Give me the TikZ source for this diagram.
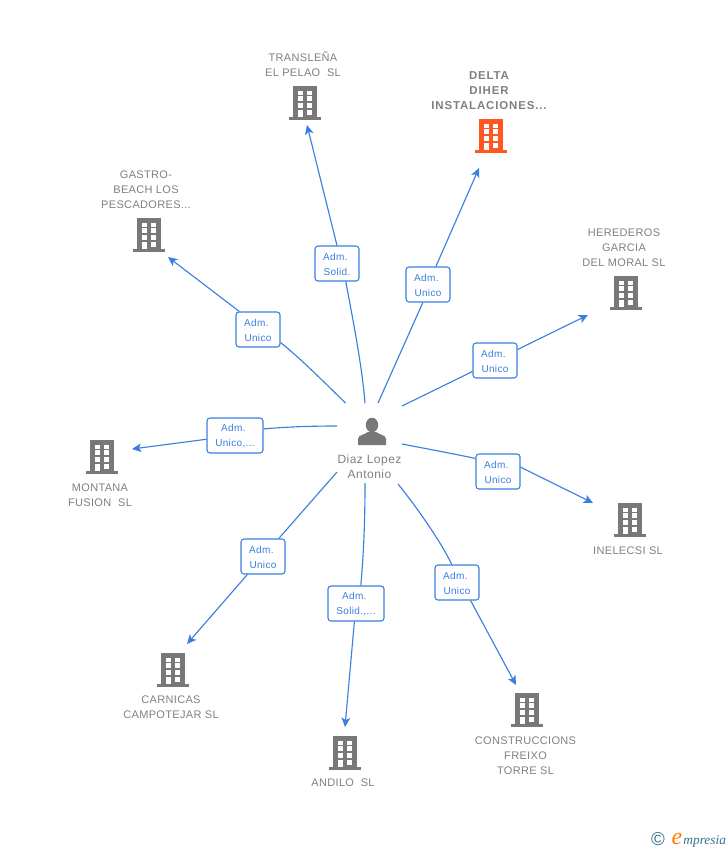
\documentclass[tikz,border=0pt]{standalone}
\usepackage{fontspec}
\setmainfont{Liberation Sans}
\newfontfamily\logofont{Liberation Serif}
\newfontfamily\firmfont[LetterSpace=3]{Liberation Sans}
\newfontfamily\hotfont[LetterSpace=7.5]{Liberation Sans}
\newfontfamily\personfont[LetterSpace=4]{Liberation Sans}
\newfontfamily\rolefont[LetterSpace=3.5]{Liberation Sans}
\usetikzlibrary{arrows.meta}
\definecolor{linkblue}{RGB}{58,127,224}
\definecolor{iconGrey}{RGB}{120,120,120}
\definecolor{textGrey}{RGB}{128,128,128}
\definecolor{hotOrange}{RGB}{255,87,34}
\definecolor{logoTeal}{RGB}{52,112,140}
\newcommand{\admword}{\rule{0pt}{6.9pt}Adm.\kern2.5pt}
\tikzset{
	every picture/.style={line width=0.75pt},
	link/.style={draw=linkblue,line width=0.85pt},
	linkarrow/.style={link,-{Stealth[length=7pt,width=6.5pt,inset=1.8pt]}},
	admbox/.style={draw=linkblue,fill=white,rounded corners=2.2pt,line width=0.8pt,minimum width=33pt,minimum height=26.25pt,inner sep=0pt,align=center,text=linkblue,font=\rolefont\fontsize{7.5}{11.25}\selectfont},
	admwide/.style={admbox,minimum width=42pt},
	firmlabel/.style={align=center,text=textGrey,inner sep=0pt,font=\firmfont\fontsize{8.25}{11.25}\selectfont},
	hotlabel/.style={align=center,text=textGrey,inner sep=0pt,font=\hotfont\fontsize{8.6}{11.25}\selectfont\bfseries},
	personlabel/.style={align=center,text=textGrey,inner sep=0pt,font=\personfont\fontsize{9}{11.25}\selectfont},
	building/.pic={
		\fill [pic actions] (-11.7,34) rectangle (11.7,3);
		\fill [pic actions] (-16,3.2) rectangle (16,0);
		\fill [white] (-7.5,29.5) rectangle (-2.2,25.3);
		\fill [white] (2,29.5) rectangle (7.2,25.3);
		\fill [white] (-7.5,24) rectangle (-2.2,19);
		\fill [white] (2,24) rectangle (7.2,19);
		\fill [white] (-7.5,17) rectangle (-2.2,12);
		\fill [white] (2,17) rectangle (7.2,12);
		\fill [white] (-7.5,10.3) rectangle (-2.2,3);
		\fill [white] (2,10.3) rectangle (7.2,5.3);
	}
}

\begin{document}
\begin{tikzpicture}[x=0.75pt,y=0.75pt,yscale=-1,xscale=1]
	\useasboundingbox (0,0) rectangle (728,850);

	% Buildings
	\pic [fill=iconGrey] at (305,120) {building};
	\pic [fill=hotOrange] at (491,153) {building};
	\pic [fill=iconGrey] at (149,252) {building};
	\pic [fill=iconGrey] at (626,310) {building};
	\pic [fill=iconGrey] at (102,474) {building};
	\pic [fill=iconGrey] at (630,537) {building};
	\pic [fill=iconGrey] at (173,687) {building};
	\pic [fill=iconGrey] at (527,727) {building};
	\pic [fill=iconGrey] at (345,770) {building};

	% Person
	\fill [iconGrey] (358,445) -- (358,439) .. controls (358,435) and (364,435) .. (368,432) -- (376,432) .. controls (380,435) and (386,435) .. (386,439) -- (386,445) -- cycle;
	\fill [iconGrey] (372,425) ellipse (6.2 and 7.3);
	\node (person) [personlabel] at (369.5,467) {Diaz Lopez\\Antonio};

	% Text Node
	\node (translena) [firmlabel] at (303,64.5) {TRANSLEÑA\\EL PELAO\ \ SL};
	\node (delta) [hotlabel] at (489,90.5) {DELTA\\DIHER\\INSTALACIONES...};
	\node (gastro) [firmlabel] at (146,189.5) {GASTRO-\\BEACH LOS\\PESCADORES...};
	\node (herederos) [firmlabel] at (624,247.5) {HEREDEROS\\GARCIA\\DEL MORAL SL};
	\node (montana) [firmlabel] at (100,495.5) {MONTANA\\FUSION\ \ SL};
	\node (inelecsi) [firmlabel] at (628,551) {INELECSI SL};
	\node (carnicas) [firmlabel] at (171,707.5) {CARNICAS\\CAMPOTEJAR SL};
	\node (construccions) [firmlabel] at (525.5,756) {CONSTRUCCIONS\\FREIXO\\TORRE SL};
	\node (andilo) [firmlabel] at (343,783) {ANDILO\ \ SL};

	% Connection ends
	\coordinate (fromtrans) at (365,403);
	\coordinate (fromdelta) at (378,403);
	\coordinate (fromgastro) at (345.5,403);
	\coordinate (fromhere) at (402,406);
	\coordinate (frommont) at (337,426);
	\coordinate (fromine) at (402,444);
	\coordinate (fromcarn) at (337,472);
	\coordinate (fromcons) at (398,484);
	\coordinate (fromand) at (365,483);
	\coordinate (totrans) at (307,125);
	\coordinate (todelta) at (479,168);
	\coordinate (togastro) at (168,257);
	\coordinate (tohere) at (588,315);
	\coordinate (tomont) at (132,449);
	\coordinate (toine) at (593,503);
	\coordinate (tocarn) at (187,644);
	\coordinate (tocons) at (516,685);
	\coordinate (toand) at (345,727);

	% Role boxes
	\node (roletrans) [admbox] at (337,263.5) {\admword\\Solid.};
	\node (roledelta) [admbox] at (428,284.5) {\admword\\Unico};
	\node (rolegastro) [admbox] at (258,329.5) {\admword\\Unico};
	\node (rolehere) [admbox] at (495,360.5) {\admword\\Unico};
	\node (rolemont) [admwide] at (235,435.5) {\admword\\Unico,...};
	\node (roleine) [admbox] at (498,471.5) {\admword\\Unico};
	\node (rolecarn) [admbox] at (263,556.5) {\admword\\Unico};
	\node (rolecons) [admbox] at (457,582.5) {\admword\\Unico};
	\node (roleand) [admwide] at (356,603.5) {\admword\\Solid.,...};

	% Connection
	\draw [link] (fromtrans) .. controls (362,365) and (352,315) .. (roletrans.296);
	\draw [linkarrow] (roletrans.north) -- (totrans);
	\draw [link] (fromdelta) -- (roledelta.254);
	\draw [linkarrow] (roledelta) -- (todelta);
	\draw [link] (fromgastro) .. controls (325,383) and (300,358) .. (rolegastro.330);
	\draw [linkarrow] (rolegastro.136) -- (togastro);
	\draw [link] (fromhere) -- (rolehere);
	\draw [linkarrow] (rolehere) -- (tohere);
	\draw [link] (frommont) .. controls (310,426) and (285,427) .. (rolemont.13);
	\draw [linkarrow] (rolemont) -- (tomont);
	\draw [link] (fromine) .. controls (428,449) and (455,454) .. (roleine.150);
	\draw [linkarrow] (roleine.11) -- (toine);
	\draw [link] (fromcarn) -- (rolecarn);
	\draw [linkarrow] (rolecarn) -- (tocarn);
	\draw [link] (fromcons) .. controls (415,505) and (440,540) .. (rolecons.106);
	\draw [linkarrow] (rolecons.-53) -- (tocons);
	\draw [link] (fromand) .. controls (365,530) and (363,560) .. (roleand.75);
	\draw [linkarrow] (roleand) -- (toand);

	% Logo
	\node (copyright) [text=logoTeal,inner sep=0pt,font=\fontsize{14}{14}\selectfont] at (658,839) {©};
	\node (logo) [anchor=base west,text=logoTeal,inner sep=0pt,font=\logofont\itshape\fontsize{10}{10}\selectfont] at (671,844) {{\color{orange}\fontsize{18}{18}\selectfont e}\kern1pt mpresia};
\end{tikzpicture}
\end{document}
